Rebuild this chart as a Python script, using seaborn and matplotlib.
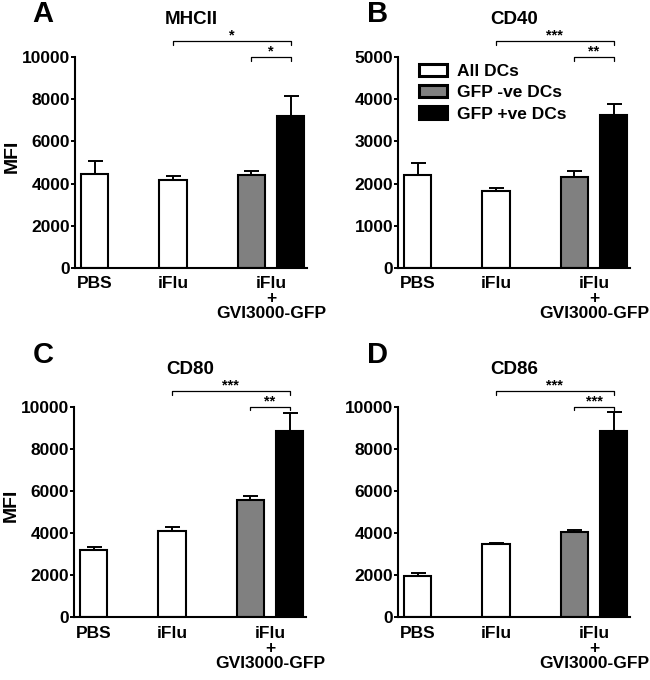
import numpy as np
import pandas as pd
import matplotlib
matplotlib.use("Agg")
import matplotlib.pyplot as plt
from matplotlib.patches import Patch
import seaborn as sns

# bar layout: PBS, iFlu, iFlu+GVI3000-GFP (GFP -ve, GFP +ve)
bar_pos = [0, 2, 4, 5]
cell_type = ["All DCs", "All DCs", "GFP -ve DCs", "GFP +ve DCs"]
group_pos = [0, 2, 4.5]
group_labels = ["PBS", "iFlu", "iFlu\n+\nGVI3000-GFP"]
cell_types = ["All DCs", "GFP -ve DCs", "GFP +ve DCs"]
colors = {"All DCs": "white", "GFP -ve DCs": "#808080", "GFP +ve DCs": "black"}

# MFI means and (upper) SEM
mhcii_mean = [4450, 4170, 4420, 7200]
mhcii_err = [620, 200, 190, 950]
cd40_mean = [2200, 1830, 2160, 3620]
cd40_err = [295, 55, 145, 255]
cd80_mean = [3200, 4100, 5550, 8850]
cd80_err = [130, 200, 230, 865]
cd86_mean = [1980, 3500, 4050, 8850]
cd86_err = [110, 20, 100, 910]

# significance brackets: (x0, x1, height in axes fraction, stars)
mhcii_sig = [(2, 5, 1.075, "*"), (4, 5, 1.0, "*")]
cd40_sig = [(2, 5, 1.075, "***"), (4, 5, 1.0, "**")]
cd80_sig = [(2, 5, 1.075, "***"), (4, 5, 1.0, "**")]
cd86_sig = [(2, 5, 1.075, "***"), (4, 5, 1.0, "***")]

sns.set_style("ticks", {"axes.edgecolor": "black", "text.color": "black",
                        "axes.labelcolor": "black", "xtick.color": "black",
                        "ytick.color": "black"})
plt.rcParams["font.family"] = ["Liberation Sans", "DejaVu Sans"]
plt.rcParams["font.weight"] = "bold"

fig = plt.figure(figsize=(6.5, 6.8), dpi=100)

panels = [
    ("A", "MHCII", mhcii_mean, mhcii_err, mhcii_sig, 10000, 2000, True,
     [75 / 650, 1 - 268 / 680, 0.357, 0.3103]),
    ("B", "CD40", cd40_mean, cd40_err, cd40_sig, 5000, 1000, False,
     [398 / 650, 1 - 268 / 680, 0.357, 0.3103]),
    ("C", "CD80", cd80_mean, cd80_err, cd80_sig, 10000, 2000, True,
     [74 / 650, 1 - 617.3 / 680, 0.357, 0.3097]),
    ("D", "CD86", cd86_mean, cd86_err, cd86_sig, 10000, 2000, False,
     [398 / 650, 1 - 617.3 / 680, 0.357, 0.3097]),
]

for letter, title, means, errs, sigs, ymax, ystep, show_ylabel, rect in panels:
    ax = fig.add_axes(rect)
    df = pd.DataFrame({"pos": bar_pos, "mfi": means, "cells": cell_type})
    sns.barplot(data=df, x="pos", y="mfi", hue="cells", hue_order=cell_types,
                palette=colors, native_scale=True, dodge=False, width=0.69,
                edgecolor="black", linewidth=1.5, errorbar=None, legend=False,
                ax=ax, zorder=2)
    ax.errorbar(bar_pos, means, yerr=[np.zeros(len(errs)), errs], fmt="none",
                ecolor="black", elinewidth=1.4, capsize=5.4, capthick=1.4, zorder=3)

    ax.set_xlim(-0.5, 5.42)
    ax.set_ylim(0, ymax)
    yt = np.arange(0, ymax + 1, ystep)
    ax.set_yticks(yt, labels=[str(v) for v in yt], fontsize=12.5, fontweight="bold")
    ax.set_xticks(group_pos, labels=group_labels, fontsize=12.5, fontweight="bold",
                  linespacing=1.0)
    ax.tick_params(axis="x", length=0, pad=6)
    ax.tick_params(axis="y", length=3, width=1.4, pad=0.5)
    sns.despine(ax=ax)
    for s in ["left", "bottom"]:
        ax.spines[s].set_linewidth(1.5)
    ax.set_xlabel("")
    if show_ylabel:
        ax.set_ylabel("MFI", fontsize=14, fontweight="bold")
        ax.yaxis.set_label_coords(-0.235, 0.53)
    else:
        ax.set_ylabel("")

    ax.text(0.5, 1.155, title, transform=ax.transAxes, ha="center", va="baseline",
            fontsize=13.5, fontweight="bold")

    # significance brackets
    tr = ax.get_xaxis_transform()
    for x0, x1, h, stars in sigs:
        ax.plot([x0, x0, x1, x1], [h - 0.018, h, h, h - 0.018], color="black",
                lw=0.9, transform=tr, clip_on=False)
        ax.text((x0 + x1) / 2, h + 0.008, stars, transform=tr, ha="center",
                va="baseline", fontsize=10.5, fontweight="bold")

    if letter == "B":
        handles = [Patch(facecolor=colors[c], edgecolor="black", linewidth=2.2, label=c)
                   for c in cell_types]
        leg = ax.legend(handles=handles, loc="upper left", bbox_to_anchor=(0.06, 1.0),
                        frameon=False, prop={"size": 12.5, "weight": "bold"},
                        handlelength=1.6, handleheight=0.7, handletextpad=0.6,
                        labelspacing=0.35, borderaxespad=0.0)

# panel letters
fig.text(32 / 650, 1 - 22 / 680, "A", fontsize=21, fontweight="bold", va="baseline")
fig.text(367 / 650, 1 - 22 / 680, "B", fontsize=21, fontweight="bold", va="baseline")
fig.text(33 / 650, 1 - 363 / 680, "C", fontsize=21, fontweight="bold", va="baseline")
fig.text(367 / 650, 1 - 363 / 680, "D", fontsize=21, fontweight="bold", va="baseline")

fig.savefig("out.png", dpi=100)
